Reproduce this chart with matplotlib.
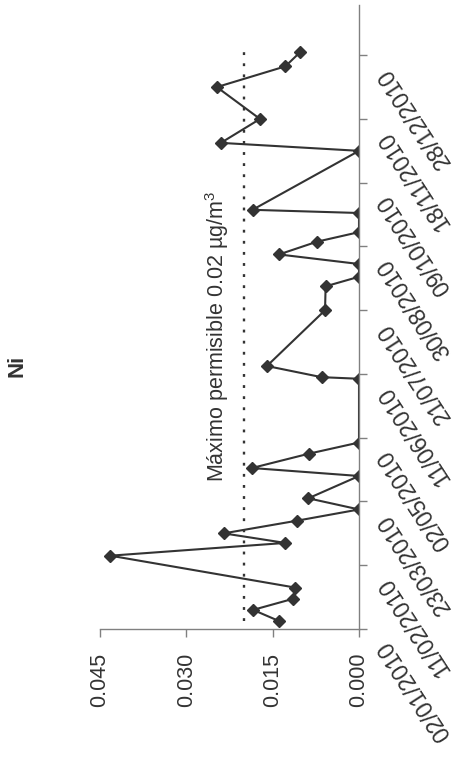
import datetime as dt
import matplotlib
matplotlib.use("Agg")
import matplotlib.pyplot as plt
from matplotlib.transforms import ScaledTranslation

plt.rcParams['font.family'] = ['Liberation Sans', 'DejaVu Sans']
plt.rcParams['mathtext.fontset'] = 'custom'
plt.rcParams['mathtext.rm'] = 'Liberation Sans'

# Ni samples (µg/m3) by sampling date
fechas = ['07/01/2010', '14/01/2010', '21/01/2010', '28/01/2010', '17/02/2010',
          '25/02/2010', '03/03/2010', '11/03/2010', '18/03/2010', '25/03/2010',
          '08/04/2010', '13/04/2010', '22/04/2010', '29/04/2010', '08/06/2010',
          '09/06/2010', '16/06/2010', '21/07/2010', '05/08/2010', '11/08/2010',
          '19/08/2010', '25/08/2010', '02/09/2010', '08/09/2010', '20/09/2010',
          '22/09/2010', '29/10/2010', '03/11/2010', '18/11/2010', '08/12/2010',
          '21/12/2010', '30/12/2010']
ni = [0.0139, 0.0184, 0.0114, 0.0111, 0.0432,
      0.0128, 0.0235, 0.0107, 0.0, 0.0088,
      0.0, 0.0186, 0.0087, 0.0, 0.0,
      0.0065, 0.0160, 0.0059, 0.0058, 0.0,
      0.0, 0.0139, 0.0073, 0.0, 0.0,
      0.0185, 0.0, 0.0240, 0.0172, 0.0247,
      0.0128, 0.0102]
limite = 0.02
valor_ticks = [0.045, 0.030, 0.015, 0.000]
fecha_inicio = '02/01/2010'
paso_dias = 40
n_ticks = 10

gris = '#333333'
gris_eje = '#808080'

dias = [dt.datetime.strptime(f, '%d/%m/%Y') for f in fechas]
inicio = dt.datetime.strptime(fecha_inicio, '%d/%m/%Y')
tick_fechas = [inicio + dt.timedelta(days=paso_dias * k) for k in range(n_ticks)]

fig = plt.figure(figsize=(4.61, 7.62), dpi=100)
ax = fig.add_axes([100 / 461, 1 - 629 / 762, 259 / 461, 624 / 762])

# chart drawn turned on its side: values run along x, dates go up
ax.plot(ni, dias, color=gris, lw=1.5, marker='D', markersize=6.5,
        markerfacecolor=gris, markeredgecolor=gris)
ax.plot([limite, limite], [dias[0], dias[-1]], color=gris, lw=1.7,
        linestyle=(0, (1.2, 3.5)))
ax.text(0.0235, inicio + dt.timedelta(days=92), 'Máximo permisible 0.02 µg/m$^{3}$',
        rotation=90, rotation_mode='anchor', ha='left', va='baseline',
        fontsize=15.5, color=gris)

ax.set_xlim(0.045, 0.0)
ax.set_ylim(inicio, inicio + dt.timedelta(days=391.5))

for s in ['left', 'top']:
    ax.spines[s].set_visible(False)
for s in ['bottom', 'right']:
    ax.spines[s].set_color(gris_eje)
    ax.spines[s].set_linewidth(1.0)

ax.set_xticks(valor_ticks)
ax.set_xticklabels(['%.3f' % v for v in valor_ticks], rotation=90,
                   fontsize=15.5, color=gris)
ax.tick_params(axis='x', direction='out', length=6, width=1, color=gris_eje, pad=11)

ax.yaxis.tick_right()
ax.set_yticks(tick_fechas)
ax.set_yticklabels([])
ax.tick_params(axis='y', direction='out', length=6, width=1, color=gris_eje)

off = ScaledTranslation(24 / 100, -14 / 100, fig.dpi_scale_trans)
for t in tick_fechas:
    ax.text(1.0, t, t.strftime('%d/%m/%Y'), transform=ax.get_yaxis_transform() + off,
            rotation=123, rotation_mode='anchor', ha='right', va='center',
            fontsize=16.5, color=gris)

fig.text(17 / 461, 1 - 366 / 762, 'Ni', rotation=90, ha='center', va='center',
         fontsize=16, fontweight='bold', color=gris)

fig.savefig('out.png', dpi=100)
